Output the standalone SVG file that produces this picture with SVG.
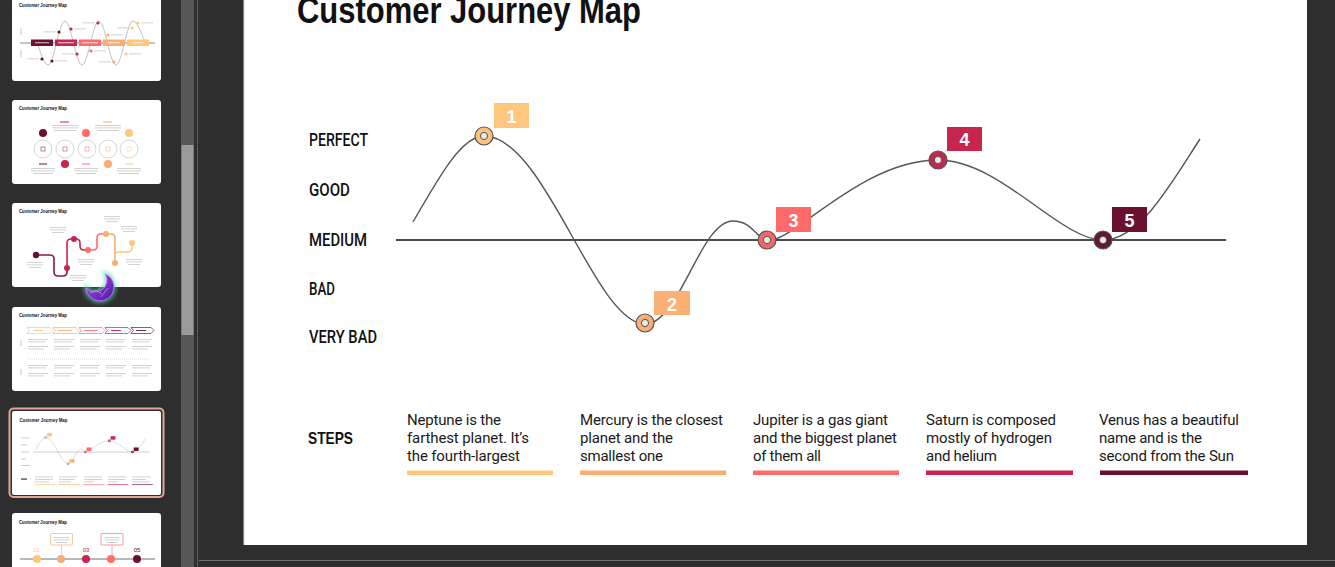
<svg xmlns="http://www.w3.org/2000/svg" width="1335" height="567" viewBox="0 0 1335 567">
<style>
.ax{font-family:Roboto,"Liberation Sans",Arial,sans-serif;font-weight:500;font-size:18px;fill:#111}
.hd{font-family:"Liberation Sans",Arial,sans-serif;font-weight:bold;fill:#111}
.st{font-family:Roboto,"Liberation Sans",sans-serif;font-size:15px;fill:#1a1a1a}
.num{font-family:"Liberation Sans",Arial,sans-serif;font-weight:bold;font-size:18px;fill:#fff;text-anchor:middle}
.tt{font-family:"Liberation Sans",Arial,sans-serif;font-weight:bold;font-size:5.4px;fill:#111}
.g{fill:#c6c6c6}
.curve{fill:none;stroke:#555;stroke-width:1.4}
.ring{stroke:#555;stroke-width:1.2}
.dot{fill:#e8e8e8;stroke:#555;stroke-width:1}
.tw{fill:#fff;fill-opacity:.85}
</style>
<defs>
<linearGradient id="moon" x1="0" y1="0" x2="1" y2="1">
<stop offset="0" stop-color="#b04ce0"/><stop offset="1" stop-color="#4a1aa8"/>
</linearGradient>
<filter id="glow" x="-50%" y="-50%" width="200%" height="200%"><feGaussianBlur stdDeviation="2"/></filter>
<g id="chart">
<line x1="396" y1="240" x2="1226" y2="240" stroke="#111" stroke-width="1.5"/>
<path class="curve" d="M413,222 C440,175 462,136 484,136 C545,136 595,324 645,324 C680,324 700,221 733,221 C752,221 756,238 767,240 C790,246 860,160 938,160 C1000,160 1060,240 1103,240 C1140,240 1170,185 1200,139"/>
<circle class="ring" cx="484" cy="136" r="9" fill="#fcc27a"/><circle class="dot" cx="484" cy="136" r="3.6"/>
<circle class="ring" cx="645" cy="323" r="9" fill="#f8ae74"/><circle class="dot" cx="645" cy="323" r="3.6"/>
<circle class="ring" cx="767" cy="240" r="9" fill="#f0666b"/><circle class="dot" cx="767" cy="240" r="3.6"/>
<circle class="ring" cx="938" cy="160" r="9" fill="#c0284f"/><circle class="dot" cx="938" cy="160" r="3.6"/>
<circle class="ring" cx="1103" cy="240" r="9" fill="#5e1a2c"/><circle class="dot" cx="1103" cy="240" r="3.6"/>
<rect x="494" y="103" width="35" height="25" fill="#ffc77d"/>
<rect x="654" y="291" width="36" height="24" fill="#fbb075"/>
<rect x="776" y="207" width="35" height="25" fill="#ff6b6b"/>
<rect x="947" y="127" width="35" height="24" fill="#c7254e"/>
<rect x="1112" y="207" width="35" height="25" fill="#6a1131"/>
<rect x="407" y="470.5" width="146" height="4.5" fill="#ffc77d"/>
<rect x="580" y="470.5" width="146" height="4.5" fill="#f9ad72"/>
<rect x="753" y="470.5" width="146" height="4.5" fill="#ff6b6b"/>
<rect x="926" y="470.5" width="147" height="4.5" fill="#c7254e"/>
<rect x="1100" y="470.5" width="148" height="4.5" fill="#6a1131"/>
</g>
</defs>

<rect x="0" y="0" width="1335" height="567" fill="#2e2e2f"/>

<g id="thumb1">
<rect x="12" y="-4" width="149" height="85" rx="3" fill="#fff"/>
<text class="tt" x="19" y="6.5" textLength="48" lengthAdjust="spacingAndGlyphs">Customer Journey Map</text>
<rect class="g" x="20.5" y="28" width="1" height="7"/><rect class="g" x="20.5" y="50" width="1" height="7"/>
<path d="M38,45 C42,58 45,65 48,65 C54,65 59,21 65,21 C71,21 76,65 82,65 C88,65 93,21 99,21 C105,21 110,65 116,65 C122,65 127,21 133,21 C137,21 141,32 145,42" fill="none" stroke="#999" stroke-width="0.6"/>
<line x1="20" y1="43" x2="155" y2="43" stroke="#555" stroke-width="0.7"/>
<rect x="31" y="39.5" width="22" height="6.5" fill="#6a1131"/><rect class="tw" x="35" y="42.3" width="14" height="0.9"/>
<rect x="55" y="39.5" width="22" height="6.5" fill="#c7254e"/><rect class="tw" x="58" y="42.3" width="16" height="0.9"/>
<rect x="79" y="39.5" width="22" height="6.5" fill="#ff6b6b"/><rect class="tw" x="82" y="42.3" width="16" height="0.9"/>
<rect x="103" y="39.5" width="22" height="6.5" fill="#f9ad72"/><rect class="tw" x="108" y="42.3" width="12" height="0.9"/>
<rect x="127" y="39.5" width="22" height="6.5" fill="#ffc77d"/><rect class="tw" x="133" y="42.3" width="10" height="0.9"/>
<circle cx="59" cy="32" r="1.6" fill="#6a1131"/><rect class="g" x="44" y="31.5" width="12" height="0.8"/>
<circle cx="71" cy="29" r="1.6" fill="#c7254e"/><rect class="g" x="74" y="28.5" width="12" height="0.8"/>
<circle cx="98" cy="23" r="1.6" fill="#c7254e"/><rect class="g" x="83" y="22.5" width="12" height="0.8"/>
<circle cx="108" cy="35" r="1.6" fill="#f9ad72"/><rect class="g" x="111" y="34.5" width="12" height="0.8"/>
<circle cx="132" cy="28" r="1.6" fill="#ffc77d"/><rect class="g" x="117" y="27.5" width="12" height="0.8"/>
<circle cx="138" cy="23" r="1.6" fill="#ffc77d"/><rect class="g" x="141" y="22.5" width="12" height="0.8"/>
<circle cx="42" cy="59" r="1.6" fill="#6a1131"/><rect class="g" x="27" y="58.5" width="12" height="0.8"/>
<circle cx="52" cy="61" r="1.6" fill="#6a1131"/><rect class="g" x="55" y="60.5" width="12" height="0.8"/>
<circle cx="77" cy="54" r="1.6" fill="#c7254e"/><rect class="g" x="62" y="53.5" width="12" height="0.8"/>
<circle cx="91" cy="51" r="1.6" fill="#ff6b6b"/><rect class="g" x="94" y="50.5" width="12" height="0.8"/>
<circle cx="114" cy="62" r="1.6" fill="#f9ad72"/><rect class="g" x="99" y="61.5" width="12" height="0.8"/>
<circle cx="126" cy="54" r="1.6" fill="#ffc77d"/><rect class="g" x="129" y="53.5" width="12" height="0.8"/>
</g>

<g id="thumb2">
<rect x="12" y="100" width="149" height="84" rx="3" fill="#fff"/>
<text class="tt" x="19" y="109.5" textLength="48" lengthAdjust="spacingAndGlyphs">Customer Journey Map</text>
<g fill="none" stroke="#bbb" stroke-width="0.6">
<circle cx="43" cy="149" r="9"/><circle cx="65" cy="149" r="9"/><circle cx="87" cy="149" r="9"/><circle cx="108" cy="149" r="9"/><circle cx="129" cy="149" r="9"/>
</g>
<rect x="41" y="147" width="4" height="4" fill="none" stroke="#6a1131" stroke-width="0.5"/>
<rect x="63" y="147" width="4" height="4" fill="none" stroke="#c7254e" stroke-width="0.5"/>
<rect x="85" y="147" width="4" height="4" fill="none" stroke="#ff6b6b" stroke-width="0.5"/>
<rect x="106" y="147" width="4" height="4" fill="none" stroke="#f9ad72" stroke-width="0.5"/>
<rect x="127" y="147" width="4" height="4" fill="none" stroke="#ffc77d" stroke-width="0.5"/>
<circle cx="43" cy="133" r="4" fill="#6a1131"/><circle cx="86" cy="133" r="4" fill="#ff6b6b"/><circle cx="129" cy="133" r="4" fill="#ffc77d"/>
<circle cx="65" cy="164" r="4" fill="#c7254e"/><circle cx="108" cy="164" r="4" fill="#f9ad72"/>
<rect x="60" y="121.5" width="9" height="1" fill="#c7254e"/><rect x="103" y="121.5" width="9" height="1" fill="#f9ad72"/>
<rect class="g" x="52" y="125" width="26" height="0.8"/><rect class="g" x="52" y="127.5" width="26" height="0.8"/><rect class="g" x="54" y="130" width="22" height="0.8"/>
<rect class="g" x="95" y="125" width="26" height="0.8"/><rect class="g" x="95" y="127.5" width="26" height="0.8"/><rect class="g" x="97" y="130" width="22" height="0.8"/>
<rect x="39" y="163.5" width="8" height="1" fill="#6a1131"/><rect x="82" y="163.5" width="8" height="1" fill="#ff6b6b"/><rect x="125" y="163.5" width="8" height="1" fill="#ffc77d"/>
<rect class="g" x="31" y="168" width="24" height="0.8"/><rect class="g" x="31" y="170.5" width="24" height="0.8"/><rect class="g" x="33" y="173" width="20" height="0.8"/>
<rect class="g" x="74" y="168" width="24" height="0.8"/><rect class="g" x="74" y="170.5" width="24" height="0.8"/><rect class="g" x="76" y="173" width="20" height="0.8"/>
<rect class="g" x="117" y="168" width="24" height="0.8"/><rect class="g" x="117" y="170.5" width="24" height="0.8"/><rect class="g" x="119" y="173" width="20" height="0.8"/>
</g>

<g id="thumb3">
<rect x="12" y="203" width="149" height="84" rx="3" fill="#fff"/>
<text class="tt" x="19" y="213" textLength="48" lengthAdjust="spacingAndGlyphs">Customer Journey Map</text>
<g fill="none" stroke-width="1.6" stroke-linecap="round">
<path d="M36,255 H50 Q54,255 54,259 V272 Q54,276 58,276 H63 Q67,276 67,272 V268" stroke="#8a1a3c"/>
<path d="M67,268 V243 Q67,239 71,239 H76 Q80,239 80,243 V246 Q80,250 84,250 H88" stroke="#c7254e"/>
<path d="M88,250 H93 Q97,250 97,246 V238 Q97,234 101,234 H106" stroke="#ff6b6b"/>
<path d="M106,234 H111 Q115,234 115,238 V263" stroke="#f9ad72"/>
<path d="M115,263 V256 Q115,252 119,252 H128 Q132,252 132,248 V243" stroke="#ffc77d"/>
</g>
<circle cx="36" cy="255" r="3.2" fill="#6a1131"/><circle cx="67" cy="268" r="3" fill="#c7254e"/><circle cx="74" cy="239" r="3" fill="#c7254e"/>
<circle cx="88" cy="250" r="3" fill="#ff6b6b"/><circle cx="106" cy="234" r="3" fill="#f9ad72"/><circle cx="115" cy="263" r="3" fill="#f9ad72"/><circle cx="132" cy="243" r="3" fill="#ffc77d"/>
<rect class="g" x="27" y="262" width="16" height="0.8"/><rect class="g" x="27" y="264.5" width="16" height="0.8"/><rect class="g" x="29" y="267" width="12" height="0.8"/>
<rect class="g" x="50" y="227" width="16" height="0.8"/><rect class="g" x="50" y="229.5" width="16" height="0.8"/><rect class="g" x="52" y="232" width="12" height="0.8"/>
<rect class="g" x="78" y="259" width="16" height="0.8"/><rect class="g" x="78" y="261.5" width="16" height="0.8"/><rect class="g" x="80" y="264" width="12" height="0.8"/>
<rect class="g" x="70" y="275" width="16" height="0.8"/><rect class="g" x="70" y="277.5" width="16" height="0.8"/><rect class="g" x="72" y="280" width="12" height="0.8"/>
<rect class="g" x="104" y="216" width="16" height="0.8"/><rect class="g" x="104" y="218.5" width="16" height="0.8"/><rect class="g" x="106" y="221" width="12" height="0.8"/>
<rect class="g" x="121" y="226" width="16" height="0.8"/><rect class="g" x="121" y="228.5" width="16" height="0.8"/><rect class="g" x="123" y="231" width="12" height="0.8"/>
<rect class="g" x="126" y="259" width="16" height="0.8"/><rect class="g" x="126" y="261.5" width="16" height="0.8"/><rect class="g" x="128" y="264" width="12" height="0.8"/>
</g>

<g id="moonicon">
<path d="M105.45,274.1 A14,14 0 1 1 86.03,287.96 A12,12 0 0 0 105.45,274.1 Z" fill="none" stroke="#46e0b0" stroke-width="3.5" filter="url(#glow)" opacity=".85"/>
<path d="M105.45,274.1 A14,14 0 1 1 86.03,287.96 A12,12 0 0 0 105.45,274.1 Z" fill="url(#moon)" stroke="#e070ff" stroke-width="0.8"/>
<path d="M90,293 L96,290 L102,294 M98,290 L104,284 M101,297 L108,288" stroke="#e8c8ff" stroke-width="0.5" fill="none"/>
</g>

<g id="thumb4">
<rect x="12" y="307" width="149" height="84" rx="3" fill="#fff"/>
<text class="tt" x="19" y="317" textLength="48" lengthAdjust="spacingAndGlyphs">Customer Journey Map</text>
<g fill="none" stroke-width="0.7">
<path d="M27,327.5 H50 L53,330.5 L50,333.5 H27 L29.5,330.5 Z" stroke="#ffc77d"/>
<path d="M53,327.5 H76 L79,330.5 L76,333.5 H53 L55.5,330.5 Z" stroke="#f9ad72"/>
<path d="M79,327.5 H102 L105,330.5 L102,333.5 H79 L81.5,330.5 Z" stroke="#ff6b6b"/>
<path d="M105,327.5 H128 L131,330.5 L128,333.5 H105 L107.5,330.5 Z" stroke="#c7254e"/>
<path d="M131,327.5 H151 L154,330.5 L151,333.5 H131 L133.5,330.5 Z" stroke="#6a1131"/>
</g>
<rect x="33" y="330" width="10" height="0.9" fill="#ffc77d"/><rect x="58" y="330" width="14" height="0.9" fill="#f9ad72"/><rect x="84" y="330" width="14" height="0.9" fill="#ff6b6b"/><rect x="111" y="330" width="10" height="0.9" fill="#c7254e"/><rect x="136" y="330" width="10" height="0.9" fill="#6a1131"/>
<rect class="g" x="20.5" y="340" width="1" height="6"/><rect class="g" x="20.5" y="369" width="1" height="6"/>
<g class="g">
<rect x="28" y="339" width="20" height="0.8"/><rect x="28" y="341.5" width="18" height="0.8"/><rect x="28" y="346" width="20" height="0.8"/><rect x="28" y="348.5" width="16" height="0.8"/>
<rect x="54" y="339" width="20" height="0.8"/><rect x="54" y="341.5" width="18" height="0.8"/><rect x="54" y="346" width="20" height="0.8"/><rect x="54" y="348.5" width="16" height="0.8"/>
<rect x="80" y="339" width="20" height="0.8"/><rect x="80" y="341.5" width="18" height="0.8"/><rect x="80" y="346" width="20" height="0.8"/><rect x="80" y="348.5" width="16" height="0.8"/>
<rect x="106" y="339" width="20" height="0.8"/><rect x="106" y="341.5" width="18" height="0.8"/><rect x="106" y="346" width="20" height="0.8"/><rect x="106" y="348.5" width="16" height="0.8"/>
<rect x="132" y="339" width="20" height="0.8"/><rect x="132" y="341.5" width="18" height="0.8"/><rect x="132" y="346" width="20" height="0.8"/><rect x="132" y="348.5" width="16" height="0.8"/>
<rect x="28" y="365" width="20" height="0.8"/><rect x="28" y="367.5" width="18" height="0.8"/><rect x="28" y="373" width="20" height="0.8"/><rect x="28" y="375.5" width="16" height="0.8"/>
<rect x="54" y="365" width="20" height="0.8"/><rect x="54" y="367.5" width="18" height="0.8"/><rect x="54" y="373" width="20" height="0.8"/><rect x="54" y="375.5" width="16" height="0.8"/>
<rect x="80" y="365" width="20" height="0.8"/><rect x="80" y="367.5" width="18" height="0.8"/><rect x="80" y="373" width="20" height="0.8"/><rect x="80" y="375.5" width="16" height="0.8"/>
<rect x="106" y="365" width="20" height="0.8"/><rect x="106" y="367.5" width="18" height="0.8"/><rect x="106" y="373" width="20" height="0.8"/><rect x="106" y="375.5" width="16" height="0.8"/>
<rect x="132" y="365" width="20" height="0.8"/><rect x="132" y="367.5" width="18" height="0.8"/><rect x="132" y="373" width="20" height="0.8"/><rect x="132" y="375.5" width="16" height="0.8"/>
</g>
<line x1="28" y1="359" x2="150" y2="359" stroke="#bbb" stroke-width="0.6" stroke-dasharray="1 1"/>
</g>

<g id="thumb5">
<rect x="9.5" y="408.5" width="154" height="88.5" rx="4" fill="none" stroke="#e6a494" stroke-width="2"/>
<rect x="12" y="411" width="149" height="84" rx="2" fill="#fff"/>
<use href="#chart" transform="translate(-22.21,418.43) scale(0.1402)"/>
<text class="tt" x="19.4" y="421.5" textLength="48" lengthAdjust="spacingAndGlyphs">Customer Journey Map</text>
<g class="g">
<rect x="21" y="437.5" width="8" height="0.9"/><rect x="21" y="444.5" width="6" height="0.9"/><rect x="21" y="451.5" width="8" height="0.9"/><rect x="21" y="458.5" width="5" height="0.9"/><rect x="21" y="465" width="9" height="0.9"/>
<rect x="35" y="476.5" width="18" height="0.8"/><rect x="35" y="479" width="18" height="0.8"/><rect x="35" y="481.5" width="14" height="0.8"/>
<rect x="59" y="476.5" width="18" height="0.8"/><rect x="59" y="479" width="16" height="0.8"/><rect x="59" y="481.5" width="12" height="0.8"/>
<rect x="84" y="476.5" width="18" height="0.8"/><rect x="84" y="479" width="18" height="0.8"/><rect x="84" y="481.5" width="10" height="0.8"/>
<rect x="108" y="476.5" width="18" height="0.8"/><rect x="108" y="479" width="17" height="0.8"/><rect x="108" y="481.5" width="10" height="0.8"/>
<rect x="132" y="476.5" width="19" height="0.8"/><rect x="132" y="479" width="14" height="0.8"/><rect x="132" y="481.5" width="18" height="0.8"/>
</g>
<rect x="21" y="478.5" width="6" height="1.2" fill="#333"/>
</g>

<g id="thumb6">
<rect x="12" y="513" width="149" height="60" rx="3" fill="#fff"/>
<text class="tt" x="19" y="523.5" textLength="48" lengthAdjust="spacingAndGlyphs">Customer Journey Map</text>
<rect x="50.5" y="533.5" width="22" height="11.5" rx="1" fill="none" stroke="#f9ad72" stroke-width="0.7"/>
<rect x="101" y="533.5" width="22" height="11.5" rx="1" fill="none" stroke="#ff6b6b" stroke-width="0.7"/>
<line x1="61.5" y1="545" x2="61.5" y2="555" stroke="#f9ad72" stroke-width="0.6"/>
<line x1="112" y1="545" x2="112" y2="555" stroke="#ff6b6b" stroke-width="0.6"/>
<g class="g"><rect x="54" y="537" width="15" height="0.8"/><rect x="54" y="539.5" width="15" height="0.8"/><rect x="56" y="542" width="11" height="0.8"/>
<rect x="104.5" y="537" width="15" height="0.8"/><rect x="104.5" y="539.5" width="15" height="0.8"/><rect x="106.5" y="542" width="11" height="0.8"/></g>
<text x="36.5" y="552" font-family="'Liberation Sans',Arial,sans-serif" font-size="6" fill="#ffc77d" text-anchor="middle">01</text>
<text x="86" y="552" font-family="'Liberation Sans',Arial,sans-serif" font-size="6" fill="#c7254e" text-anchor="middle">03</text>
<text x="137" y="552" font-family="'Liberation Sans',Arial,sans-serif" font-size="6" fill="#6a1131" text-anchor="middle">05</text>
<line x1="20" y1="559" x2="155" y2="559" stroke="#333" stroke-width="0.7"/>
<circle cx="37" cy="559" r="4" fill="#ffc77d"/><circle cx="61" cy="559" r="4" fill="#f9ad72"/><circle cx="86" cy="559" r="4" fill="#c7254e"/><circle cx="111" cy="559" r="4" fill="#ff6b6b"/><circle cx="137" cy="559" r="4" fill="#6a1131"/>
</g>

<g id="scrollbar">
<rect x="181" y="0" width="13" height="567" fill="#575757"/>
<rect x="181.5" y="145" width="12" height="190" fill="#9b9b9b"/>
<line x1="197.5" y1="0" x2="197.5" y2="567" stroke="#5e5e5e" stroke-width="1"/>
<line x1="199" y1="560.5" x2="1335" y2="560.5" stroke="#6e6e6e" stroke-width="1"/>
</g>

<g id="slide">
<rect x="244" y="-2" width="1063" height="547" fill="#fff"/>
<line x1="244" y1="0" x2="244" y2="545" stroke="#d8d8d8" stroke-width="1"/>
<text class="hd" x="297" y="23" font-size="37" textLength="344" lengthAdjust="spacingAndGlyphs">Customer Journey Map</text>
</g>

<g id="axis-labels">
<text class="ax" x="309" y="146" textLength="59" lengthAdjust="spacingAndGlyphs">PERFECT</text>
<text class="ax" x="309" y="196" textLength="41" lengthAdjust="spacingAndGlyphs">GOOD</text>
<text class="ax" x="309" y="246" textLength="58" lengthAdjust="spacingAndGlyphs">MEDIUM</text>
<text class="ax" x="309" y="295" textLength="26" lengthAdjust="spacingAndGlyphs">BAD</text>
<text class="ax" x="309" y="343" textLength="68" lengthAdjust="spacingAndGlyphs">VERY BAD</text>
</g>

<g id="connectors">
<use href="#chart"/>
</g>

<g id="step1"><text class="num" x="511.5" y="122.5">1</text>
<text class="st" x="407" y="425" textLength="94">Neptune is the</text>
<text class="st" x="407" y="443" textLength="122">farthest planet. It’s</text>
<text class="st" x="407" y="460.5" textLength="113">the fourth-largest</text></g>
<g id="step2"><text class="num" x="672" y="310.5">2</text>
<text class="st" x="580" y="425" textLength="143">Mercury is the closest</text>
<text class="st" x="580" y="443" textLength="93">planet and the</text>
<text class="st" x="580" y="460.5" textLength="83">smallest one</text></g>
<g id="step3"><text class="num" x="793.5" y="226.5">3</text>
<text class="st" x="753" y="425" textLength="135">Jupiter is a gas giant</text>
<text class="st" x="753" y="443" textLength="144">and the biggest planet</text>
<text class="st" x="753" y="460.5" textLength="68">of them all</text></g>
<g id="step4"><text class="num" x="964.5" y="146">4</text>
<text class="st" x="926" y="425" textLength="130">Saturn is composed</text>
<text class="st" x="926" y="443" textLength="126">mostly of hydrogen</text>
<text class="st" x="926" y="460.5" textLength="71">and helium</text></g>
<g id="step5"><text class="num" x="1129.5" y="226.5">5</text>
<text class="st" x="1099" y="425" textLength="140">Venus has a beautiful</text>
<text class="st" x="1099" y="443" textLength="103">name and is the</text>
<text class="st" x="1099" y="460.5" textLength="135">second from the Sun</text></g>
<g id="steps-label"><text class="hd" x="308" y="444" font-size="17" textLength="45" lengthAdjust="spacingAndGlyphs">STEPS</text></g>
</svg>
